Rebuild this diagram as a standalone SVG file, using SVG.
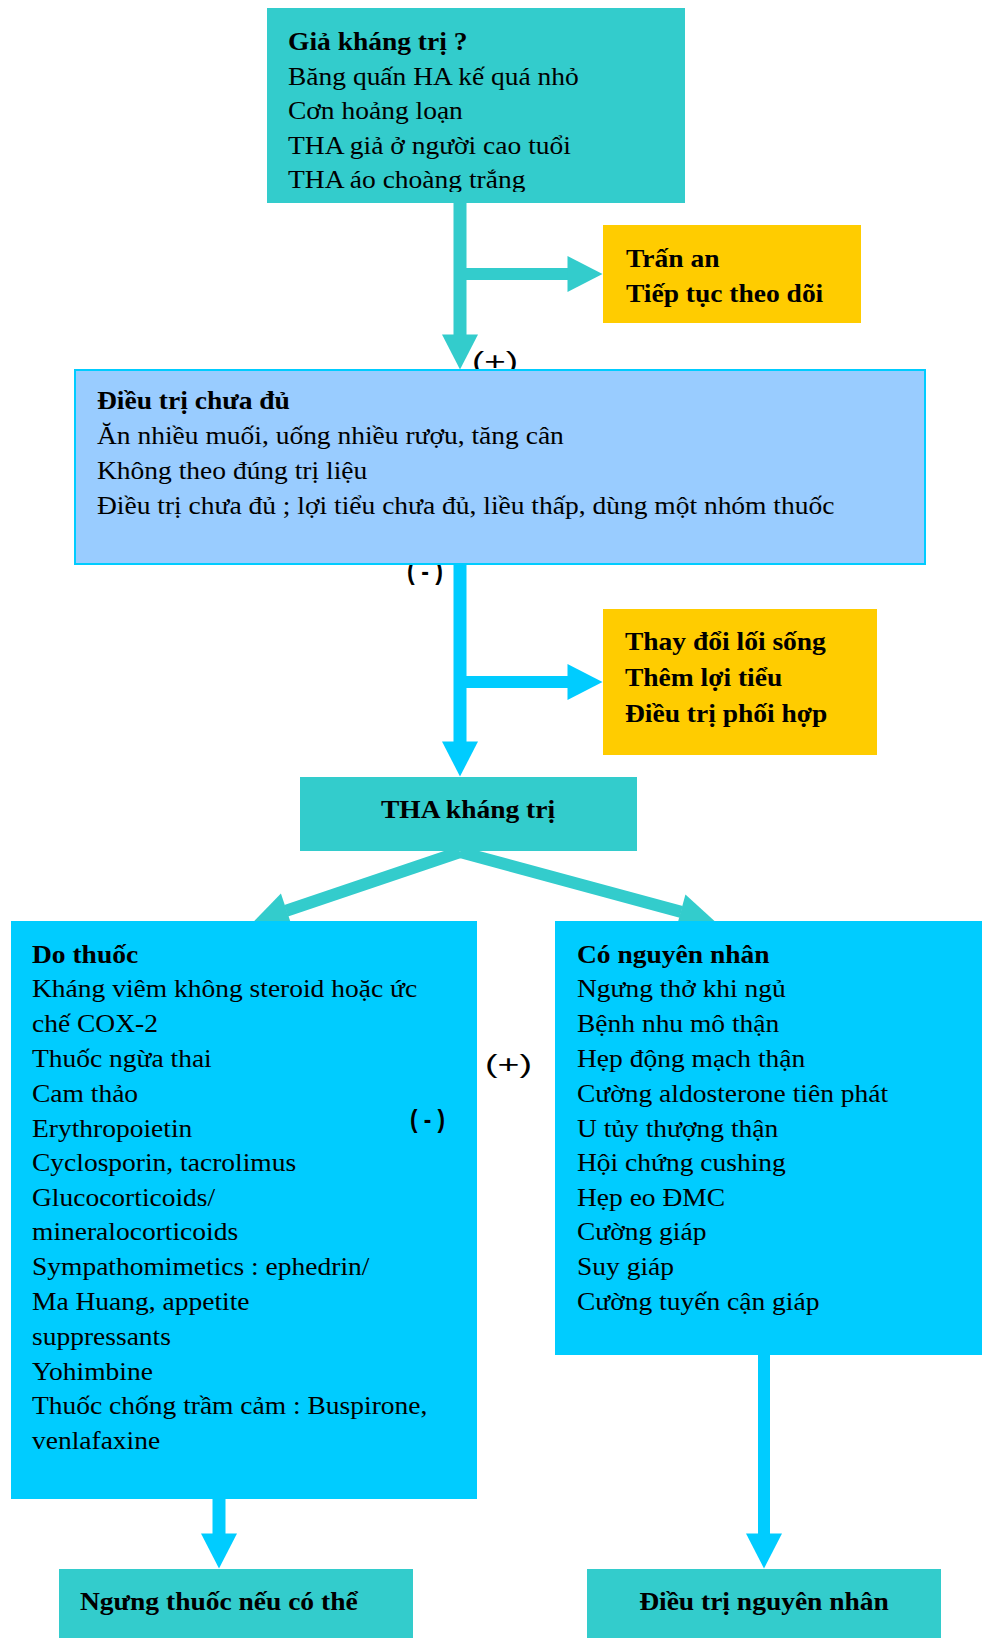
<svg xmlns="http://www.w3.org/2000/svg" width="982" height="1638" viewBox="0 0 982 1638">
<style>
text{font-family:"Liberation Serif","Times New Roman",serif;font-size:25px;fill:#000}
.b{font-weight:bold}
.lbl{font-family:"Liberation Sans",Arial,sans-serif}
.teal{fill:#33CCCC}
.cyan{fill:#00CCFF}
.yel{fill:#FFCC00}
.lt{stroke:#33CCCC;fill:none}
.lc{stroke:#00CCFF;fill:none}
</style>
<defs>
<marker id="ht" markerUnits="userSpaceOnUse" markerWidth="36" markerHeight="36" refX="0.5" refY="18" orient="auto" viewBox="0 0 36 36" overflow="visible"><path d="M0,0 L35,18 L0,36 z" fill="#33CCCC"/></marker>
<marker id="hc" markerUnits="userSpaceOnUse" markerWidth="36" markerHeight="36" refX="0.5" refY="18" orient="auto" viewBox="0 0 36 36" overflow="visible"><path d="M0,0 L35,18 L0,36 z" fill="#00CCFF"/></marker>
<clipPath id="clipTop"><rect x="267" y="8" width="418" height="184"/></clipPath>
</defs>
<rect width="982" height="1638" fill="#fff"/>
<g id="connectors">
<line class="lt" x1="460" y1="203" x2="460" y2="335" stroke-width="13" marker-end="url(#ht)"/>
<line class="lt" x1="460" y1="274" x2="568" y2="274" stroke-width="12" marker-end="url(#ht)"/>
<line class="lc" x1="460" y1="564" x2="460" y2="742" stroke-width="13" marker-end="url(#hc)"/>
<line class="lc" x1="460" y1="682" x2="568" y2="682" stroke-width="12" marker-end="url(#hc)"/>
<line class="lt" x1="460" y1="852" x2="286.2" y2="910.8" stroke-width="12" marker-end="url(#ht)"/>
<line class="lt" x1="460" y1="852" x2="681.2" y2="911.9" stroke-width="12" marker-end="url(#ht)"/>
<line class="lc" x1="219" y1="1499" x2="219" y2="1534" stroke-width="13" marker-end="url(#hc)"/>
<line class="lc" x1="764" y1="1355" x2="764" y2="1534" stroke-width="12" marker-end="url(#hc)"/>
<text class="lbl" x="472" y="370" font-size="26" textLength="46" lengthAdjust="spacingAndGlyphs">(+)</text>
<text class="lbl b" x="407" y="580" font-size="23" textLength="36" lengthAdjust="spacingAndGlyphs">( - )</text>
</g>
<g id="n-gia">
<rect class="teal" x="267" y="8" width="418" height="195"/>
<g clip-path="url(#clipTop)"><g transform="translate(288,0) scale(1.1,1)">
<text class="b" y="50">Giả kháng trị ?</text>
<text y="85">Băng quấn HA kế quá nhỏ</text>
<text y="119">Cơn hoảng loạn</text>
<text y="154">THA giả ở người cao tuổi</text>
<text y="188">THA áo choàng trắng</text>
</g></g>
</g>
<g id="n-tran">
<rect class="yel" x="603" y="225" width="258" height="98"/>
<g transform="translate(626,0) scale(1.1,1)">
<text class="b" y="267">Trấn an</text>
<text class="b" y="302">Tiếp tục theo dõi</text>
</g>
</g>
<g id="n-dieutri">
<rect x="75" y="370" width="850" height="194" fill="#99CCFF" stroke="#00CCFF" stroke-width="2"/>
<g transform="translate(97,0) scale(1.1,1)">
<text class="b" y="409">Điều trị chưa đủ</text>
<text y="444">Ăn nhiều muối, uống nhiều rượu, tăng cân</text>
<text y="479">Không theo đúng trị liệu</text>
<text y="514">Điều trị chưa đủ ; lợi tiểu chưa đủ, liều thấp, dùng một nhóm thuốc</text>
</g>
</g>
<g id="n-thay">
<rect class="yel" x="603" y="609" width="274" height="146"/>
<g transform="translate(625,0) scale(1.1,1)">
<text class="b" y="650">Thay đổi lối sống</text>
<text class="b" y="686">Thêm lợi tiểu</text>
<text class="b" y="722">Điều trị phối hợp</text>
</g>
</g>
<g id="n-tha">
<rect class="teal" x="300" y="777" width="337" height="74"/>
<g transform="translate(468,0) scale(1.1,1)">
<text class="b" y="818" text-anchor="middle">THA kháng trị</text>
</g>
</g>
<g id="n-dothuoc">
<rect class="cyan" x="11" y="921" width="466" height="578"/>
<g transform="translate(32,0) scale(1.1,1)">
<text class="b" y="963">Do thuốc</text>
<text y="997">Kháng viêm không steroid hoặc ức</text>
<text y="1032">chế COX-2</text>
<text y="1067">Thuốc ngừa thai</text>
<text y="1102">Cam thảo</text>
<text y="1137">Erythropoietin</text>
<text y="1171">Cyclosporin, tacrolimus</text>
<text y="1206">Glucocorticoids/</text>
<text y="1240">mineralocorticoids</text>
<text y="1275">Sympathomimetics : ephedrin/</text>
<text y="1310">Ma Huang, appetite</text>
<text y="1345">suppressants</text>
<text y="1380">Yohimbine</text>
<text y="1414">Thuốc chống trầm cảm : Buspirone,</text>
<text y="1449">venlafaxine</text>
</g>
</g>
<g id="n-nguyennhan">
<rect class="cyan" x="555" y="921" width="427" height="434"/>
<g transform="translate(577,0) scale(1.1,1)">
<text class="b" y="963">Có nguyên nhân</text>
<text y="997">Ngưng thở khi ngủ</text>
<text y="1032">Bệnh nhu mô thận</text>
<text y="1067">Hẹp động mạch thận</text>
<text y="1102">Cường aldosterone tiên phát</text>
<text y="1137">U tủy thượng thận</text>
<text y="1171">Hội chứng cushing</text>
<text y="1206">Hẹp eo ĐMC</text>
<text y="1240">Cường giáp</text>
<text y="1275">Suy giáp</text>
<text y="1310">Cường tuyến cận giáp</text>
</g>
</g>
<g id="n-ngung">
<rect class="teal" x="59" y="1569" width="354" height="69"/>
<g transform="translate(80,0) scale(1.1,1)">
<text class="b" y="1610">Ngưng thuốc nếu có thể</text>
</g>
</g>
<g id="n-dieutrinn">
<rect class="teal" x="587" y="1569" width="354" height="69"/>
<g transform="translate(764,0) scale(1.1,1)">
<text class="b" y="1610" text-anchor="middle">Điều trị nguyên nhân</text>
</g>
</g>
<g id="labels">
<text class="lbl" x="485" y="1073" font-size="26" textLength="47" lengthAdjust="spacingAndGlyphs">(+)</text>
<text class="lbl b" x="410" y="1128" font-size="23" textLength="35" lengthAdjust="spacingAndGlyphs">( - )</text>
</g>
</svg>
